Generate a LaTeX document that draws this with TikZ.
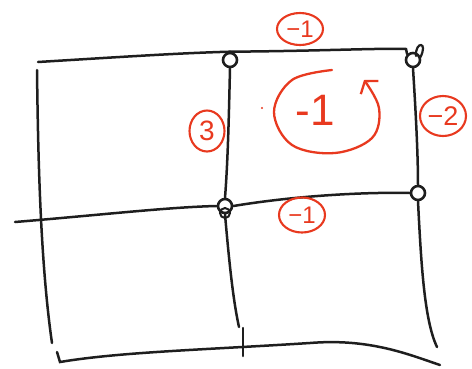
\documentclass[tikz,border=0pt]{standalone}
\usepackage{fontspec}
\setmainfont{Liberation Sans}
\usetikzlibrary{arrows.meta,shapes.geometric}
\definecolor{pen}{HTML}{1E1E1E}
\definecolor{ink}{HTML}{E8391F}
\begin{document}
\begin{tikzpicture}[x=1pt,y=-1pt,
  grid/.style={line width=2.5pt, draw=pen, line cap=round},
  junc/.style={circle, draw=pen, line width=2.6pt, minimum size=14pt, inner sep=0pt},
  tag/.style={ellipse, draw=ink, line width=2.1pt, text=ink, inner sep=0pt},
  tagfont/.style={font=\fontsize{#1}{#1}\selectfont}
]
\useasboundingbox (0,0) rectangle (472,368);
% junctions
\node[junc] (A) at (230,60) {};
\node[junc] (B) at (413,60) {};
\node[junc] (C) at (225,206) {};
\node[junc] (D) at (418,193) {};
% free ends
\coordinate (tl) at (38,62);
\coordinate (ml) at (15,222);
\coordinate (lt) at (37,70);
\coordinate (lb) at (52,343);
\coordinate (mb) at (239,327);
\coordinate (rb) at (437,347);
\coordinate (k1) at (243,328);
\coordinate (k2) at (243,356);
\coordinate (bl) at (57,352);
\coordinate (bh) at (60,362);
\coordinate (bm) at (310,343);
\coordinate (br) at (440,365);
% grid lines
\draw[grid] (tl) .. controls (120,57) and (180,53) .. (A.north);
\draw[grid] (A.north) .. controls (320,51) and (380,48) .. (406,49) -- (B.north west);
\draw[grid] (ml) .. controls (100,215) and (170,207) .. (C.west);
\draw[grid] (C.east) .. controls (300,195) and (370,192) .. (D.west);
\draw[grid] (lt) .. controls (38,150) and (40,260) .. (lb);
\draw[grid] (A.south) .. controls (229,110) and (228,160) .. (C.north);
\draw[grid] (C.south) .. controls (229,260) and (233,300) .. (mb);
\draw[grid] (k1) -- (k2);
\draw[grid] (B.south) .. controls (415,100) and (418,150) .. (D.north);
\draw[grid] (D.south) .. controls (421,260) and (424,320) .. (rb);
\draw[grid] (bl) -- (bh) .. controls (120,352) and (200,350) .. (bm) .. controls (370,338) and (410,355) .. (br);
% small pen loops
\draw[grid, line width=2.2pt] (416,56) .. controls (415,41) and (429,41) .. (420,58);
\draw[grid, line width=2pt] (225,213) circle (5);
% red annotations
\node[tag, tagfont=24, minimum width=46pt, minimum height=32pt] (ttop) at (300,29) {−1};
\node[tag, tagfont=28, minimum width=35pt, minimum height=41pt] (tthree) at (207,131) {3};
\node[tag, tagfont=27, minimum width=46pt, minimum height=40pt] (ttwo) at (443,116) {−2};
\node[tag, tagfont=24, minimum width=46pt, minimum height=35pt] (tbot) at (302,215) {−1};
\node[text=ink, tagfont=44, inner sep=0pt] (big) at (315,110) {-1};
\draw[ink, line width=2.3pt, line cap=round, -{Straight Barb[length=8pt,width=22pt,line width=2.3pt]}]
  plot[smooth, tension=0.6] coordinates {(332,70) (292,80) (274,112) (292,145) (335,153) (372,138) (379,108) (364,80)};
\fill[ink] (262,108) circle (1.2pt);
\end{tikzpicture}
\end{document}
